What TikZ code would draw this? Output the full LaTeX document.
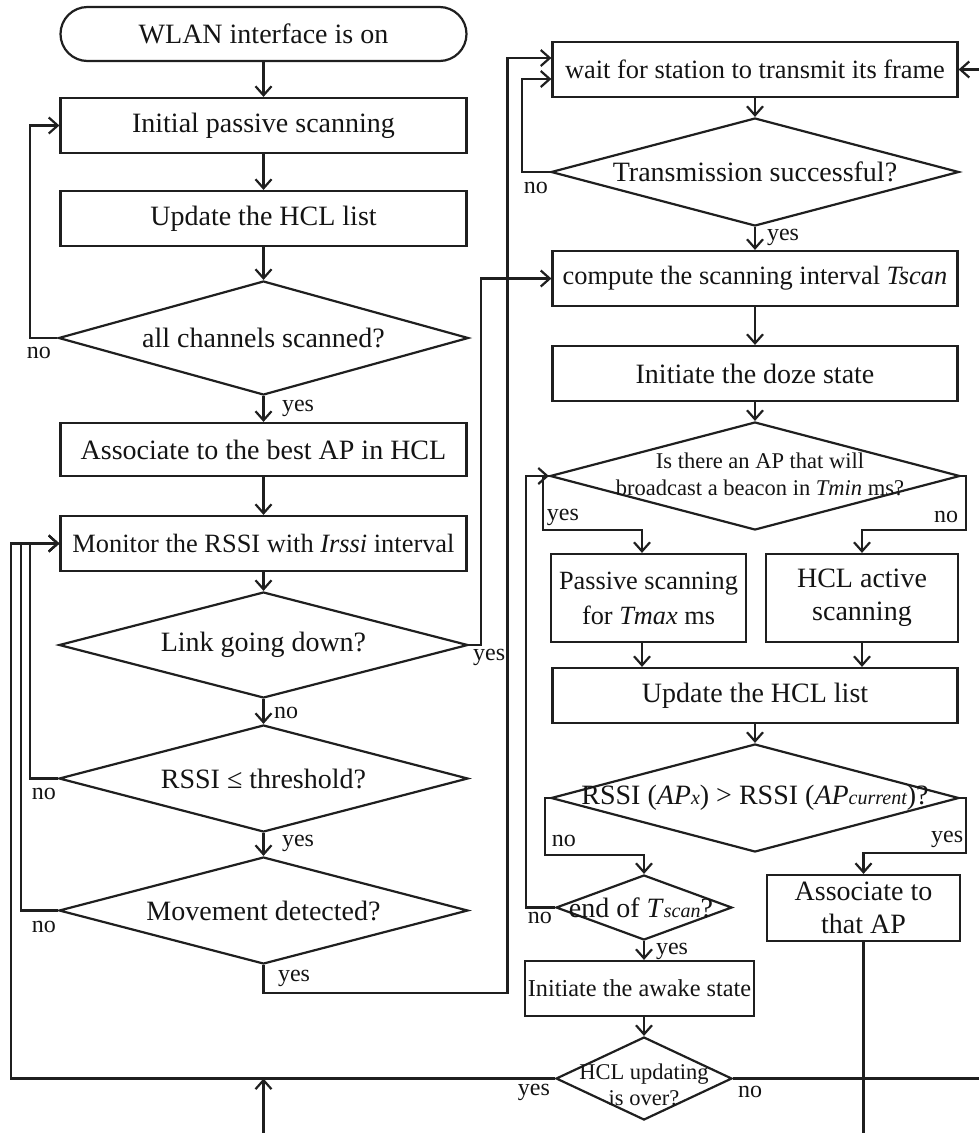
\documentclass[tikz,border=0pt]{standalone}
\usepackage{fontspec}
\setmainfont{Liberation Serif}
\usetikzlibrary{shapes.geometric,arrows.meta}
\newcommand\smallit[1]{{\fontsize{20}{20}\selectfont\itshape #1}}
\begin{document}
\begin{tikzpicture}[x=1pt,y=-1pt,
  line width=2.2pt,
  draw=black!88,
  every node/.style={font=\fontsize{28}{33}\selectfont, text=black!92},
  box/.style={draw, rectangle, inner sep=1pt, align=center, minimum height=55pt},
  dia/.style={draw, diamond, inner sep=0pt},
  lbl/.style={font=\fontsize{24}{28}\selectfont, inner sep=0pt},
  arr/.style={-{Straight Barb[length=9pt,width=16pt]}},
]
\useasboundingbox (0,0) rectangle (978,1133);

% ---------- left column ----------
\node[box, rounded corners=27pt, minimum width=406pt, minimum height=54pt] (start) at (263.5,34) {WLAN interface is on};
\node[box, minimum width=406pt] (init) at (263.5,125.5) {Initial passive scanning};
\node[box, minimum width=406pt] (upd1) at (263.5,218.5) {Update the HCL list};
\node[dia, minimum width=410pt, minimum height=114pt, label={center:all channels scanned?}] (dch) at (263.5,338) {};
\node[box, minimum width=406pt, minimum height=53pt] (assoc1) at (263.5,449.5) {Associate to the best AP in HCL};
\node[box, minimum width=406pt, font=\fontsize{26.4}{30}\selectfont] (mon) at (263.5,543.5) {Monitor the RSSI with \textit{Irssi} interval};
\node[dia, minimum width=409pt, minimum height=106pt, label={center:Link going down?}] (link) at (263.5,645) {};
\node[dia, minimum width=409pt, minimum height=107pt, label={center:RSSI ≤ threshold?}] (rssi) at (263.5,778.5) {};
\node[dia, minimum width=409pt, minimum height=107pt, label={center:Movement detected?}] (mov) at (263.5,910.5) {};

% ---------- right column ----------
\node[box, minimum width=405pt, font=\fontsize{26.4}{30}\selectfont] (wait) at (755,69.5) {wait for station to transmit its frame};
\node[dia, minimum width=408pt, minimum height=108pt, label={center:Transmission successful?}] (trans) at (755,172) {};
\node[box, minimum width=405pt, font=\fontsize{26.4}{30}\selectfont] (compute) at (755,278.5) {compute the scanning interval \textit{Tscan}};
\node[box, minimum width=405pt] (doze) at (755,373.5) {Initiate the doze state};
\node[dia, minimum width=410pt, minimum height=108pt, label={[align=center, font=\fontsize{22.5}{27}\selectfont, xshift=5pt, yshift=2pt]center:Is there an AP that will\\broadcast a beacon in \textit{Tmin} ms?}] (isap) at (755,476) {};
\node[box, minimum width=195pt, minimum height=88pt, font=\fontsize{26.3}{35}\selectfont] (passive) at (648.5,598) {Passive scanning\\for \textit{Tmax} ms};
\node[box, minimum width=192pt, minimum height=88pt] (hclact) at (862,598) {HCL active\\scanning};
\node[box, minimum width=405pt] (upd2) at (755,695.5) {Update the HCL list};
\node[dia, minimum width=408pt, minimum height=108pt, label={center:RSSI (\textit{AP}\smallit{x}) > RSSI (\textit{AP}\smallit{current})?}] (rssiap) at (755,798) {};
\node[dia, minimum width=176pt, minimum height=65pt, label={[xshift=-3pt]center:end of \textit{T}\smallit{scan}?}] (endt) at (644,907.5) {};
\node[box, minimum width=193pt, minimum height=66pt] (assoc2) at (863.5,908) {Associate to\\that AP};
\node[box, minimum width=229pt, font=\fontsize{24.3}{28}\selectfont] (awake) at (639.5,988.5) {Initiate the awake state};
\node[dia, minimum width=176pt, minimum height=83pt, label={[align=center, font=\fontsize{22.5}{26}\selectfont, yshift=-6pt]center:HCL updating\\is over?}] (hclupd) at (644,1078.5) {};

\coordinate (bot) at (0,1150);
\coordinate (merge) at (263.5,1078.5);

% ---------- straight arrows ----------
\draw[arr] (start) -- (init);
\draw[arr] (init) -- (upd1);
\draw[arr] (upd1) -- (dch);
\draw[arr] (dch) -- (assoc1);
\draw[arr] (assoc1) -- (mon);
\draw[arr] (mon) -- (link);
\draw[arr] (link) -- (rssi);
\draw[arr] (rssi) -- (mov);
\draw[arr] (wait) -- (trans);
\draw[arr] (trans) -- (compute);
\draw[arr] (compute) -- (doze);
\draw[arr] (doze) -- (isap);
\draw[arr] ([xshift=-6.5pt]passive.south) -- ([xshift=-6.5pt]passive.south |- upd2.north);
\draw[arr] (hclact.south) -- (hclact.south |- upd2.north);
\draw[arr] (upd2) -- (rssiap);
\draw[arr] (endt.south) -- (endt.south |- awake.north);
\draw[arr] (awake.south -| hclupd.north) -- (hclupd.north);

% ---------- bent connectors ----------
\draw[arr] (dch.west) -- ++(-27.5,0) |- (init.west);
\draw[arr] (rssi.west) -- ++(-28,0) |- (mon.west);
\draw[arr] (mov.west) -- ++(-37,0) |- (mon.west);
\draw[arr] (hclupd.west) -- ++(-544,0) |- (mon.west);
\draw[arr] (link.east) -- ++(12,0) |- (compute.west);
\draw[arr] (mov.south) -- ++(0,28) -| ([xshift=-44pt,yshift=11.5pt]wait.west) -- ([yshift=11.5pt]wait.west);
\draw[arr] (trans.west) -- ++(-28,0) |- ([yshift=-9.5pt]wait.west);
\draw[arr] (isap.west) -- ++(-6,0) -- ++(0,54) -| ([xshift=-6.5pt]passive.north);
\draw[arr] (isap.east) -- ++(5,0) -- ++(0,54) -| (hclact.north);
\draw[arr] (rssiap.west) -- ++(-5,0) -- ++(0,57) -| (endt.north);
\draw[arr] (rssiap.east) -- ++(6,0) -- ++(0,55) -| (assoc2.north);
\draw[arr] (endt.west) -- ++(-29,0) |- (isap.west);
\draw[arr] (hclupd.east) -- ++(258,0) |- (wait.east);
\draw[arr] (assoc2.south) -- (assoc2.south |- bot) -| (merge);

% ---------- branch labels ----------
\node[lbl] (l1) at ([xshift=-18.5pt,yshift=-15pt]dch.west) {no};
\node[lbl] (l2) at ([xshift=34.5pt,yshift=-12pt]dch.south) {yes};
\node[lbl] (l3) at ([xshift=20pt,yshift=-12pt]link.east) {yes};
\node[lbl] (l4) at ([xshift=22.5pt,yshift=-14pt]link.south) {no};
\node[lbl] (l5) at ([xshift=-14pt,yshift=-15pt]rssi.west) {no};
\node[lbl] (l6) at ([xshift=34.5pt,yshift=-10pt]rssi.south) {yes};
\node[lbl] (l7) at ([xshift=-14pt,yshift=-16pt]mov.west) {no};
\node[lbl] (l8) at ([xshift=30.5pt,yshift=-13pt]mov.south) {yes};
\node[lbl] (l9) at ([xshift=-14pt,yshift=-16pt]trans.west) {no};
\node[lbl] (l10) at ([xshift=28pt,yshift=-10pt]trans.south) {yes};
\node[lbl] (l11) at ([xshift=14pt,yshift=-41pt]isap.west) {yes};
\node[lbl] (l12) at ([xshift=-15pt,yshift=-41pt]isap.east) {no};
\node[lbl] (l13) at ([xshift=14pt,yshift=-43pt]rssiap.west) {no};
\node[lbl] (l14) at ([xshift=-13pt,yshift=-41pt]rssiap.east) {yes};
\node[lbl] (l15) at ([xshift=-15pt,yshift=-10.5pt]endt.west) {no};
\node[lbl] (l16) at ([xshift=28pt,yshift=-10pt]endt.south) {yes};
\node[lbl] (l17) at ([xshift=-21pt,yshift=-13.5pt]hclupd.west) {yes};
\node[lbl] (l18) at ([xshift=17pt,yshift=-13.5pt]hclupd.east) {no};
\end{tikzpicture}
\end{document}
